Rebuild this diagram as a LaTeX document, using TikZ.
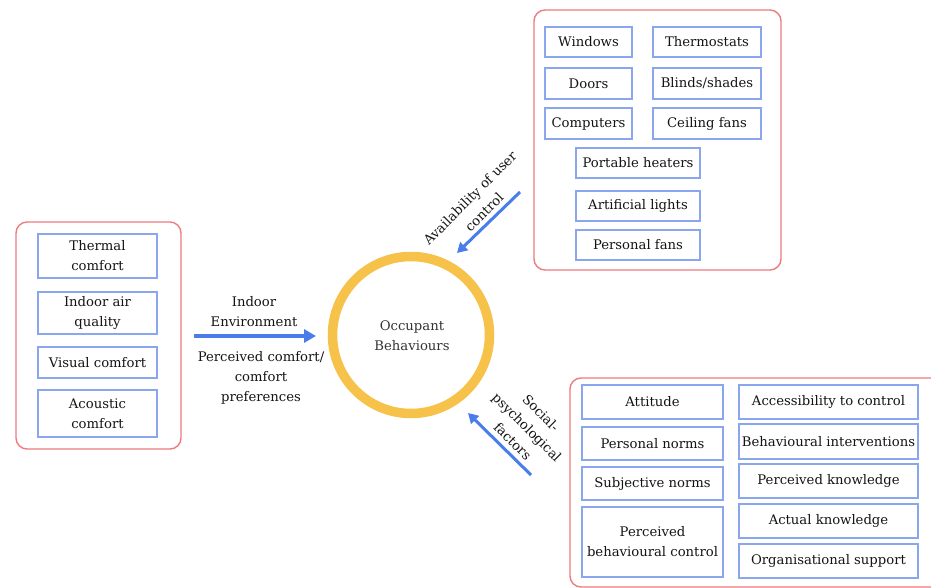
\documentclass[tikz,border=0pt]{standalone}
\usepackage{fontspec}
\setmainfont{DejaVu Serif}
\usetikzlibrary{arrows.meta}

\definecolor{grpred}{HTML}{EE7B7F}
\definecolor{itemblue}{HTML}{8AA6EE}
\definecolor{flowblue}{HTML}{4A7CEB}
\definecolor{ringgold}{HTML}{F6C24A}
\definecolor{inktext}{HTML}{141414}

\tikzset{
  group/.style={draw=grpred, line width=1.4pt, rounded corners=11pt},
  item/.style={draw=itemblue, line width=1.4pt, fill=white, inner sep=1pt,
    align=center, text=inktext, font=\fontsize{13.2}{20}\selectfont},
  lbl/.style={align=center, text=inktext, font=\fontsize{13.2}{20}\selectfont},
  flow/.style={draw=flowblue, line width=3.6pt,
    -{Triangle[length=12pt,width=13pt]}},
  flowthin/.style={draw=flowblue, line width=3pt,
    -{Triangle[length=10pt,width=11pt]}}
}

\begin{document}
\begin{tikzpicture}[x=1pt,y=-1pt]
\clip (0,0) rectangle (931,588);
\fill[white] (0,0) rectangle (931,588);

% ---- central element
\draw[ringgold, line width=9.5pt] (411,335) circle[radius=78.5];
\node[lbl, text=black!80] (occ) at (412,336) {Occupant\\Behaviours};

% ---- indoor environment group
\draw[group] (16,222) rectangle (181,449);
\node[item, minimum width=119, minimum height=44] (thermal) at (97.5,256) {Thermal\\comfort};
\node[item, minimum width=119, minimum height=42] (iaq) at (97.5,313) {Indoor air\\quality};
\node[item, minimum width=119, minimum height=31] (visual) at (97.5,362.5) {Visual comfort};
\node[item, minimum width=119, minimum height=47] (acoustic) at (97.5,413.5) {Acoustic\\comfort};

\coordinate (envS) at (194,336);
\coordinate (envE) at (316,336);
\draw[flow] (envS) -- (envE);
\node[lbl] (envA) at (254,312) {Indoor\\Environment};
\node[lbl] (envB) at (261,378) {Perceived comfort/\\comfort\\preferences};

% ---- user control group
\draw[group] (534,10) rectangle (781,270);
\node[item, minimum width=87, minimum height=30] (windows) at (588.5,42) {Windows};
\node[item, minimum width=108, minimum height=30] (thermo) at (707,42) {Thermostats};
\node[item, minimum width=87, minimum height=31] (doors) at (588.5,83.5) {Doors};
\node[item, minimum width=108, minimum height=31] (blinds) at (707,83.5) {Blinds/shades};
\node[item, minimum width=87, minimum height=31] (comp) at (588.5,123.5) {Computers};
\node[item, minimum width=108, minimum height=31] (ceiling) at (707,123.5) {Ceiling fans};
\node[item, minimum width=124, minimum height=30] (heaters) at (638,163) {Portable heaters};
\node[item, minimum width=124, minimum height=30] (lights) at (638,206) {Artificial lights};
\node[item, minimum width=124, minimum height=30] (pfans) at (638,245) {Personal fans};

\coordinate (ctlS) at (520,192);
\coordinate (ctlE) at (457,253);
\draw[flowthin] (ctlS) -- (ctlE);
\node[lbl, rotate=45] (ctlL) at (477,205) {Availability of user\\control};

% ---- social-psychological group
\draw[group] (570,378) rectangle (948,587);
\node[item, minimum width=141, minimum height=34] (att) at (652.5,402) {Attitude};
\node[item, minimum width=141, minimum height=33] (pnorm) at (652.5,443.5) {Personal norms};
\node[item, minimum width=141, minimum height=33] (snorm) at (652.5,483.5) {Subjective norms};
\node[item, minimum width=141, minimum height=70] (pbc) at (652.5,542) {Perceived\\behavioural control};
\node[item, minimum width=179, minimum height=34] (access) at (828.5,402) {Accessibility to control};
\node[item, minimum width=179, minimum height=35] (binter) at (828.5,441.5) {Behavioural interventions};
\node[item, minimum width=179, minimum height=34] (pknow) at (828.5,481) {Perceived knowledge};
\node[item, minimum width=179, minimum height=34] (aknow) at (828.5,521) {Actual knowledge};
\node[item, minimum width=179, minimum height=34] (orgsup) at (828.5,561) {Organisational support};

\coordinate (socS) at (531,475);
\coordinate (socE) at (468,413);
\draw[flowthin] (socS) -- (socE);
\node[lbl, rotate=-45] (socL) at (527,427) {Social-\\psychological\\factors};
\end{tikzpicture}
\end{document}
